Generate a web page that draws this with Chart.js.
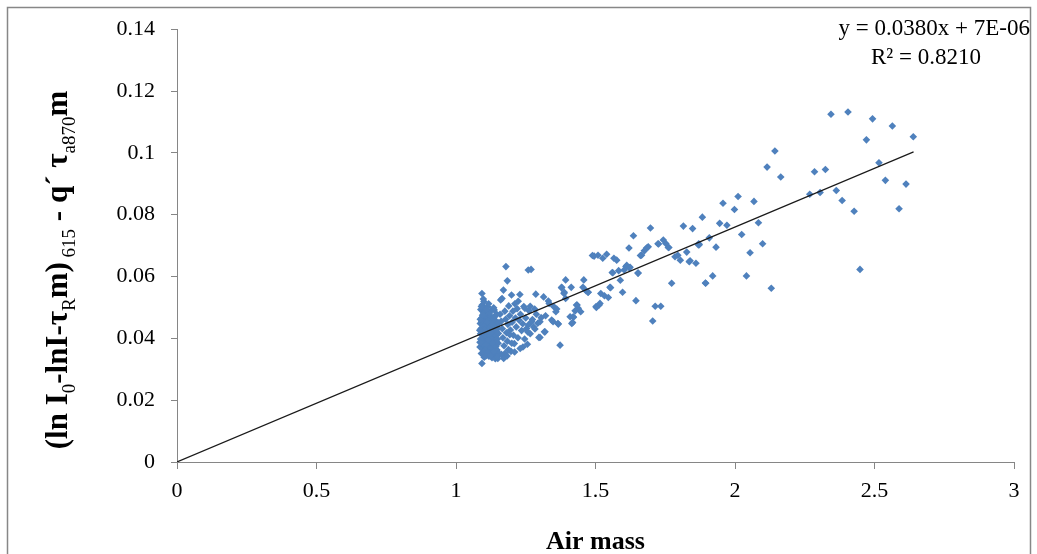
<!DOCTYPE html>
<html>
<head>
<meta charset="utf-8">
<script src="https://cdn.jsdelivr.net/npm/chart.js@4.4.1/dist/chart.umd.min.js"></script>
<style>
  html, body { margin: 0; padding: 0; background: #fff; }
  #wrap { width: 1037px; height: 554px; }
</style>
</head>
<body>
<div id="wrap"><canvas id="airmass" width="1037" height="554"></canvas></div>
<script>
// tick labels
const xTickLabels = ['0', '0.5', '1', '1.5', '2', '2.5', '3'];
const yTickLabels = ['0', '0.02', '0.04', '0.06', '0.08', '0.1', '0.12', '0.14'];

// linear fit shown in the corner
const fitSlope = 0.0380;
const fitIntercept = 7e-6;
const fitSpan = [0, 2.64];
const eqLine = 'y = 0.0380x + 7E-06';
const r2Line = 'R\u00B2 = 0.8210';
const xTitle = 'Air mass';

// observations [air mass, value], low air mass (dense block near m = 1.1)
const denseObs = [
  [1.086,0.0372],[1.088,0.0415],[1.087,0.0448],[1.089,0.0493],[1.091,0.0351],[1.092,0.0389],[1.090,0.0432],[1.093,0.0467],[1.094,0.0508],[1.096,0.0364],
  [1.097,0.0401],[1.095,0.0426],[1.098,0.0455],[1.099,0.0482],[1.101,0.0339],[1.100,0.0378],[1.102,0.0412],[1.103,0.0441],[1.101,0.0473],[1.104,0.0497],
  [1.106,0.0356],[1.105,0.0393],[1.107,0.0423],[1.108,0.0459],[1.106,0.0486],[1.109,0.0368],[1.110,0.0405],[1.111,0.0437],[1.112,0.0468],[1.110,0.0346],
  [1.113,0.0384],[1.114,0.0418],[1.115,0.0449],[1.116,0.0477],[1.114,0.0502],[1.117,0.0361],[1.118,0.0396],[1.119,0.0429],[1.120,0.0462],[1.118,0.0342],
  [1.121,0.0375],[1.122,0.0409],[1.123,0.0440],[1.124,0.0488],[1.125,0.0357],[1.126,0.0391],[1.127,0.0424],[1.128,0.0453],[1.126,0.0471],[1.129,0.0337],
  [1.130,0.0368],[1.131,0.0402],[1.132,0.0435],[1.133,0.0465],[1.134,0.0381],[1.135,0.0414],[1.136,0.0447],[1.137,0.0492],[1.138,0.0353],[1.139,0.0388],
  [1.140,0.0426],[1.141,0.0458],[1.142,0.0345],[1.143,0.0374],[1.144,0.0409],[1.145,0.0439],[1.146,0.0478],[1.147,0.0362],[1.148,0.0397],[1.149,0.0431],
  [1.150,0.0335],[1.151,0.0384],[1.152,0.0416],[1.153,0.0450],[1.154,0.0351],
  [1.088,0.0398],[1.092,0.0455],[1.097,0.0383],[1.103,0.0428],[1.108,0.0379],[1.112,0.0452],[1.116,0.0394],[1.121,0.0436],[1.125,0.0417],[1.130,0.0445],
  [1.134,0.0357],[1.139,0.0471],[1.144,0.0389],[1.104,0.0361],[1.095,0.0475],[1.119,0.0481],[1.099,0.0356],[1.131,0.0386],[1.087,0.0462],[1.113,0.0353],
  [1.091,0.0503],[1.100,0.0519],[1.109,0.0495],[1.117,0.0512],[1.085,0.0426],[1.086,0.0387],[1.107,0.0343],[1.124,0.0344],[1.141,0.0334],[1.135,0.0499],
  [1.093,0.0545],[1.098,0.0527],[1.093,0.0319],[1.179,0.0632],[1.184,0.0586],[1.170,0.0556],[1.165,0.0529],[1.160,0.0524],[1.259,0.0621],
  [1.158,0.0478],[1.162,0.0455],[1.166,0.0431],[1.168,0.0402],[1.172,0.0376],[1.175,0.0488],[1.178,0.0462],[1.181,0.0418],[1.184,0.0391],[1.186,0.0445],
  [1.189,0.0505],[1.192,0.0473],[1.195,0.0427],[1.197,0.0358],[1.201,0.0452],[1.204,0.0488],[1.206,0.0410],[1.209,0.0383],[1.213,0.0466],[1.216,0.0437],
  [1.219,0.0496],[1.222,0.0402],[1.226,0.0459],[1.231,0.0478],[1.235,0.0425],[1.239,0.0447],[1.243,0.0503],[1.246,0.0398],[1.250,0.0466],[1.253,0.0432],
  [1.262,0.0489],[1.266,0.0415],[1.274,0.0461],[1.278,0.0437],[1.282,0.0495],[1.288,0.0478],[1.176,0.0352],[1.188,0.0364],[1.163,0.0348],[1.183,0.0343],
  [1.210,0.0356],[1.240,0.0372],[1.200,0.0384],[1.193,0.0412],[1.199,0.0540],[1.229,0.0542],[1.211,0.0512],[1.223,0.0520],[1.147,0.0340],[1.171,0.0335],
  [1.230,0.0367]
];

// observations, air mass about 1.25 to 1.65
const midObs = [
  [1.269,0.0623],[1.393,0.0589],[1.458,0.0589],[1.495,0.0666],[1.509,0.0669],[1.379,0.0565],[1.413,0.0565],[1.455,0.0565],[1.466,0.0554],[1.473,0.0549],
  [1.286,0.0543],[1.314,0.0534],[1.388,0.0549],[1.393,0.0529],[1.331,0.0521],[1.334,0.0513],[1.350,0.0503],[1.361,0.0495],[1.358,0.0486],[1.266,0.0504],
  [1.247,0.0497],[1.434,0.0508],[1.438,0.0497],[1.427,0.0489],[1.447,0.0486],[1.503,0.0500],[1.513,0.0508],[1.305,0.0467],[1.321,0.0473],[1.271,0.0454],
  [1.259,0.0443],[1.293,0.0449],[1.343,0.0459],[1.348,0.0454],[1.409,0.0470],[1.420,0.0470],[1.415,0.0448],[1.367,0.0446],[1.283,0.0430],[1.319,0.0421],
  [1.257,0.0421],[1.297,0.0403],[1.373,0.0378],[1.256,0.0381],[1.387,0.0545],[1.378,0.0564],[1.474,0.0549],[1.526,0.0659],[1.540,0.0672],[1.489,0.0668],
  [1.566,0.0659],[1.576,0.0653],[1.560,0.0613],[1.583,0.0619],[1.609,0.0632],[1.624,0.0630],[1.652,0.0611],[1.589,0.0588],[1.552,0.0565],[1.597,0.0549],
  [1.519,0.0545],[1.532,0.0538],[1.546,0.0532],[1.645,0.0522],[1.502,0.0503],[1.432,0.0508],[1.421,0.0468],[1.418,0.0451],[1.365,0.0448],[1.301,0.0454],
  [1.317,0.0421],[1.301,0.0403],[1.516,0.0513],[1.554,0.0564],[1.612,0.0636],[1.621,0.0628],[1.603,0.0621],[1.562,0.0612],[1.653,0.0611]
];

// observations, high air mass
const highObs = [
  [1.697,0.0757],[1.636,0.0732],[1.815,0.0763],[1.620,0.0692],[1.683,0.0692],[1.675,0.0683],[1.724,0.0706],[1.743,0.0718],[1.752,0.0707],[1.763,0.0694],
  [1.661,0.0668],[1.785,0.0664],[1.795,0.0669],[1.827,0.0679],[1.804,0.0653],[1.836,0.0648],[1.860,0.0643],[1.870,0.0706],[1.773,0.0578],[1.714,0.0504],
  [1.734,0.0504],[1.705,0.0456],[1.848,0.0755],[1.883,0.0792],[1.957,0.0837],[2.011,0.0859],[1.998,0.0817],[2.068,0.0843],[1.945,0.0772],[1.971,0.0766],
  [2.084,0.0774],[2.024,0.0736],[1.908,0.0725],[1.872,0.0703],[1.932,0.0695],[2.099,0.0706],[2.054,0.0677],[1.839,0.0651],[1.920,0.0602],[2.041,0.0602],
  [1.894,0.0579],[2.130,0.0562],[2.115,0.0954],[2.143,0.1006],[2.164,0.0922],[2.285,0.0939],[2.324,0.0946],[2.268,0.0866],[2.305,0.0872],[2.363,0.0878],
  [2.384,0.0846],[2.427,0.0811],[2.448,0.0623],[2.344,0.1125],[2.405,0.1132],[2.493,0.1110],[2.564,0.1087],[2.639,0.1052],[2.471,0.1042],[2.516,0.0968],
  [2.539,0.0911],[2.613,0.0899],[2.588,0.0819],[1.665,0.0669],[1.689,0.0696],[1.726,0.0705],[1.761,0.0694],[1.869,0.0702],[1.895,0.0578]
];

// y axis title: [text, isSubscript]
const yTitleRuns = [
  ['(ln I', false], ['0', true], ['-lnI-\u03C4', false], ['R', true], ['m)', false],
  [' 615', true], [' - q\u00B4 \u03C4', false], ['a870', true], ['m', false]
];

const serif = "'Liberation Serif', 'Times New Roman', serif";

const allObs = denseObs.concat(midObs, highObs).map(p => ({ x: p[0], y: p[1] }));
const fitLine = fitSpan.map(x => ({ x: x, y: fitSlope * x + fitIntercept }));

// frame, axis titles and the fit equation
const decorations = {
  id: 'decorations',
  afterDraw(chart) {
    const ctx = chart.ctx;
    const area = chart.chartArea;
    ctx.save();

    ctx.strokeStyle = '#878787';
    ctx.lineWidth = 1.5;
    ctx.strokeRect(7.5, 7.5, 1023, 600);

    ctx.fillStyle = '#000';
    ctx.textBaseline = 'alphabetic';

    ctx.font = 'bold 26px ' + serif;
    ctx.textAlign = 'center';
    ctx.fillText(xTitle, (area.left + area.right) / 2, 549);

    // rotated y title with subscripts
    ctx.save();
    ctx.translate(67, 270);
    ctx.rotate(-Math.PI / 2);
    ctx.textAlign = 'left';
    const mainFont = 'bold 31px ' + serif;
    const subFont = '19px ' + serif;
    let total = 0;
    yTitleRuns.forEach(r => {
      ctx.font = r[1] ? subFont : mainFont;
      total += ctx.measureText(r[0]).width;
    });
    let pos = -total / 2;
    yTitleRuns.forEach(r => {
      ctx.font = r[1] ? subFont : mainFont;
      ctx.fillText(r[0], pos, r[1] ? 8 : 0);
      pos += ctx.measureText(r[0]).width;
    });
    ctx.restore();

    ctx.font = '23px ' + serif;
    ctx.textAlign = 'right';
    ctx.fillText(eqLine, 1030, 35);
    ctx.textAlign = 'center';
    ctx.fillText(r2Line, 926, 64);

    ctx.restore();
  }
};

new Chart(document.getElementById('airmass'), {
  type: 'scatter',
  data: {
    datasets: [{
      type: 'line',
      data: fitLine,
      borderColor: '#1a1a1a',
      borderWidth: 1.2,
      pointRadius: 0,
      fill: false,
      order: 0
    }, {
      data: allObs,
      pointStyle: 'rectRot',
      pointRadius: 3.8,
      borderWidth: 0,
      backgroundColor: '#4F81BD',
      borderColor: '#4F81BD',
      order: 1
    }]
  },
  options: {
    responsive: false,
    animation: false,
    events: [],
    layout: { padding: { top: 29, right: 23, left: 0, bottom: 0 } },
    plugins: { legend: { display: false }, tooltip: { enabled: false } },
    scales: {
      x: {
        type: 'linear',
        min: 0,
        max: 3,
        ticks: {
          stepSize: 0.5,
          padding: 9,
          color: '#000',
          font: { family: serif, size: 22 },
          callback: (v, i) => xTickLabels[i]
        },
        grid: { drawOnChartArea: false, drawTicks: true, tickLength: 7, color: '#868686' },
        border: { color: '#868686', width: 1 },
        afterFit: s => { s.height = 92; }
      },
      y: {
        min: 0,
        max: 0.14,
        ticks: {
          stepSize: 0.02,
          padding: 16,
          color: '#000',
          font: { family: serif, size: 22 },
          callback: (v, i) => yTickLabels[i]
        },
        grid: { drawOnChartArea: false, drawTicks: true, tickLength: 6, color: '#868686' },
        border: { color: '#868686', width: 1 },
        afterFit: s => { s.width = 177; }
      }
    }
  },
  plugins: [decorations]
});
</script>
</body>
</html>
